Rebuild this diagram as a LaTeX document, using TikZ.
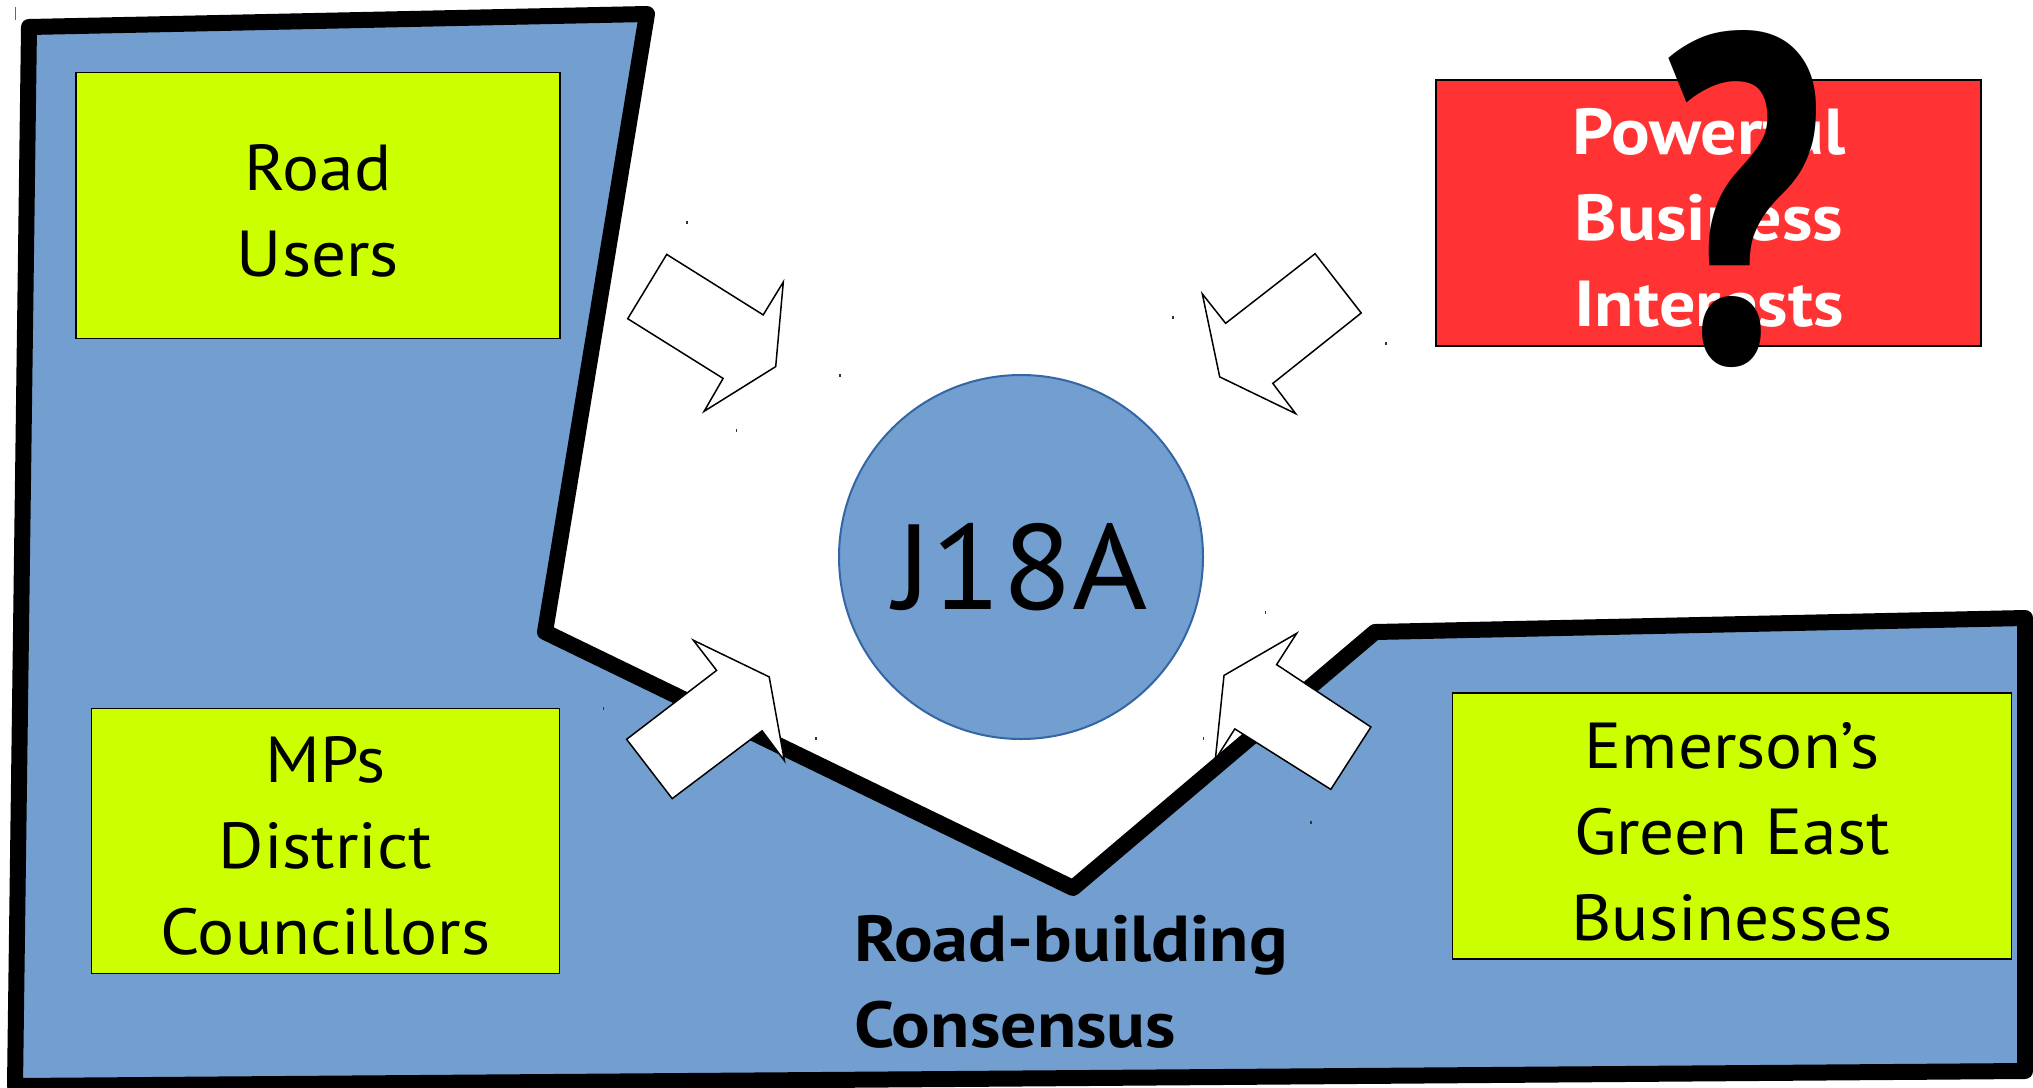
\documentclass[tikz,border=0pt]{standalone}
\usepackage{fontspec}
\setmainfont{PT Sans}
\newfontfamily\labelfont{PT Sans}[FakeStretch=1.065]
\newfontfamily\heavyfont{PT Sans}[FakeStretch=1.11]
\definecolor{regionblue}{HTML}{729FCF}
\definecolor{rimblue}{HTML}{3465A4}
\definecolor{actorgreen}{HTML}{CCFF00}
\definecolor{alarmred}{HTML}{FF3333}
\newcommand{\bodyfont}{\labelfont\fontsize{65}{86}\selectfont}
\newcommand{\boldbodyfont}{\heavyfont\bfseries\fontsize{65}{86}\selectfont}
\begin{document}
\begin{tikzpicture}[x=1pt,y=-1pt,
  region/.style={fill=regionblue, draw=black, line width=16pt, line join=round},
  actor/.style={draw=black, line width=1.6pt, fill=actorgreen, inner sep=0pt},
  powerbox/.style={draw=black, line width=1.6pt, fill=alarmred, inner sep=0pt},
  boxtext/.style={anchor=base, align=center, inner sep=0pt, font=\bodyfont},
  junction/.style={circle, draw=rimblue, line width=2pt, fill=regionblue,
    minimum size=364pt, inner sep=0pt, font=\labelfont\fontsize{121}{121}\selectfont,
    text height=104pt, text depth=0pt},
  pusharrow/.style={draw=black, line width=1.5pt, fill=white, line join=miter},
  speck/.style={fill=black!80, draw=none},
]
\useasboundingbox (0,0) rectangle (2033,1087);

% the road-building consensus region
\coordinate (r1) at (29,27);
\coordinate (r2) at (647,14);
\coordinate (r3) at (545,632);
\coordinate (r4) at (1073,888);
\coordinate (r5) at (1375,632);
\coordinate (r6) at (2025,618);
\coordinate (r7) at (2025,1071);
\coordinate (r8) at (15,1086);
\draw[region] (r1) -- (r2) -- (r3) -- (r4) -- (r5) -- (r6) -- (r7) -- (r8) -- cycle;

% stakeholders: boxes, then their labels (anchored at the last baseline)
\node[actor, minimum width=484pt, minimum height=266pt] (roadusers) at (318,205.5) {};
\node[actor, minimum width=468pt, minimum height=265pt] (mps) at (325.5,840.8) {};
\node[actor, minimum width=559pt, minimum height=266pt] (emerson) at (1732,826.2) {};
\node[powerbox, minimum width=545pt, minimum height=266pt] (business) at (1708.5,213) {};

\node[boxtext] (roadusers-text) at (318,276.7) {Road\\Users};
\node[boxtext] (mps-text) at (325.5,954) {MPs\\District\\Councillors};
\node[boxtext] (emerson-text) at (1732,940.6) {Emerson’s\\Green East\\Businesses};
\node[boxtext, text=white, font=\boldbodyfont] (business-text) at (1709,326.7)
  {Powerful\\Business\\Interests};

% the junction
\node[junction] (j18a) at (1021,557) {J18A};

% pressure arrows towards the junction
\draw[pusharrow] (666.7,254.4) -- (763.2,314.9) -- (783.3,282) -- (775.7,366.6)
  -- (704.1,411.3) -- (723.1,378.4) -- (627.7,318.7) -- cycle;
\draw[pusharrow] (1315.1,253.7) -- (1225.6,323.3) -- (1202.3,293.9) -- (1219.7,376.9)
  -- (1295.6,413.6) -- (1272.8,383.4) -- (1361.2,313) -- cycle;
\draw[pusharrow] (716.6,670.4) -- (693.3,640.2) -- (769.2,676.9) -- (784.4,760.7)
  -- (762.1,730.8) -- (672.2,798.6) -- (626.6,739.3) -- cycle;
\draw[pusharrow] (1224,675.4) -- (1296.7,633.3) -- (1276.6,664.6) -- (1370.9,727)
  -- (1330.8,789.4) -- (1234.8,728.9) -- (1215.3,759.6) -- cycle;

% caption of the region
\node[anchor=base west, align=left, inner sep=0pt, font=\boldbodyfont] (consensus)
  at (854,1047.7) {Road-building\\Consensus};

% big question mark over the business box
\node[anchor=base, inner sep=0pt, xscale=0.78, font=\bfseries\fontsize{465}{465}\selectfont] (doubt)
  at (1743,362) {?};

% stray cursor marks
\foreach \px/\py in {687/222, 840/375, 736.5/430.5, 1173/317, 1386/343.5,
  1265.5/612, 815.8/738.5, 603.3/708.5, 1203.5/738.5, 1311/822.5}
  \fill[speck] (\px-0.7,\py-1.5) rectangle (\px+0.7,\py+1.5);
\fill[black!60] (15,6.5) rectangle (16.2,20);
\end{tikzpicture}
\end{document}
